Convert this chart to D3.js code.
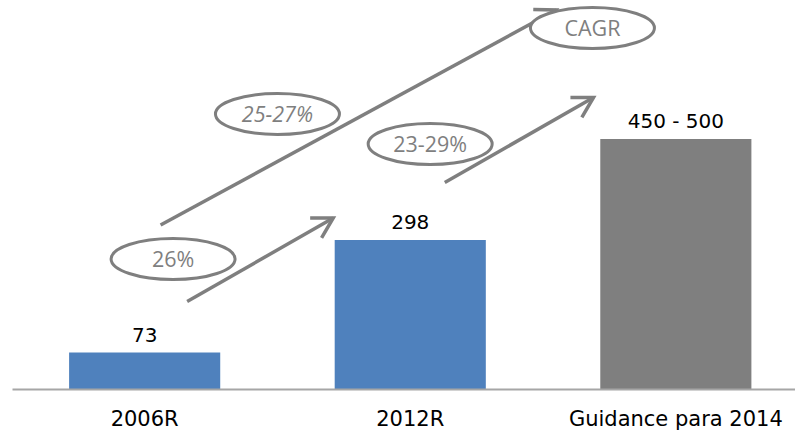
<!DOCTYPE html>
<html>
<head>
<meta charset="utf-8">
<script src="https://cdn.jsdelivr.net/npm/d3@7/dist/d3.min.js"></script>
<style>
  html, body { margin: 0; padding: 0; background: #fff; }
  svg { display: block; }
</style>
</head>
<body>
<div id="chart"></div>
<script>
// Chart data
const categories = ['2006R', '2012R', 'Guidance para 2014'];
const values = [73, 298, 500];
const valueLabels = ['73', '298', '450 - 500'];
const barColors = ['#4f81bd', '#4f81bd', '#7f7f7f'];

// CAGR annotations (arrow start/end in category index + value units)
const arrowFrom = [[0.16, 175], [1.13, 413], [0.06, 328]];
const arrowTo = [[0.71, 342], [1.69, 583], [1.55, 758]];
const bubbleText = ['26%', '23-29%', '25-27%', 'CAGR'];
const bubbleAt = [[0.107, 260], [1.075, 490], [0.5, 550], [1.686, 722]];
const bubbleItalic = [false, false, true, false];

const width = 795, height = 433;
const svg = d3.select('#chart').append('svg')
  .attr('width', width)
  .attr('height', height);

const x = d3.scaleBand()
  .domain(categories)
  .range([12, 808.5])
  .paddingInner(0.431)
  .paddingOuter(0.215);

const y = d3.scaleLinear().domain([0, 700]).range([389, 39]);

// continuous position across category centres, for the annotations
const xi = d3.scaleLinear()
  .domain([0, categories.length - 1])
  .range([x(categories[0]) + x.bandwidth() / 2,
          x(categories[categories.length - 1]) + x.bandwidth() / 2]);

// Bars
svg.append('g').selectAll('rect')
  .data(categories)
  .join('rect')
  .attr('x', d => x(d))
  .attr('width', x.bandwidth())
  .attr('y', (d, i) => y(values[i]))
  .attr('height', (d, i) => y(0) - y(values[i]))
  .attr('fill', (d, i) => barColors[i]);

// Value labels
svg.append('g').selectAll('text')
  .data(categories)
  .join('text')
  .attr('x', d => x(d) + x.bandwidth() / 2)
  .attr('y', (d, i) => y(values[i]) - 11)
  .attr('text-anchor', 'middle')
  .attr('font-family', 'DejaVu Sans, Verdana, sans-serif')
  .attr('font-size', '20px')
  .attr('fill', '#000')
  .text((d, i) => valueLabels[i]);

// Axis
const axis = svg.append('g')
  .attr('transform', `translate(0,${y(0)})`)
  .call(d3.axisBottom(x).tickSize(0).tickSizeOuter(0).tickPadding(22));
axis.select('.domain').attr('stroke', '#a6a6a6').attr('stroke-width', 2);
axis.selectAll('.tick text')
  .attr('font-family', 'DejaVu Sans, Verdana, sans-serif')
  .attr('font-size', '21px')
  .attr('fill', '#000');

// Arrow heads
svg.append('defs').append('marker')
  .attr('id', 'head')
  .attr('markerUnits', 'userSpaceOnUse')
  .attr('viewBox', '-24 -14 28 28')
  .attr('markerWidth', 28)
  .attr('markerHeight', 28)
  .attr('refX', 0)
  .attr('refY', 0)
  .attr('orient', 'auto')
  .append('path')
  .attr('d', 'M-20,-11.5L0,0L-20,11.5')
  .attr('fill', 'none')
  .attr('stroke', '#7f7f7f')
  .attr('stroke-width', 3.5);

svg.append('g').selectAll('line')
  .data(arrowFrom)
  .join('line')
  .attr('x1', d => xi(d[0]))
  .attr('y1', d => y(d[1]))
  .attr('x2', (d, i) => xi(arrowTo[i][0]))
  .attr('y2', (d, i) => y(arrowTo[i][1]))
  .attr('stroke', '#7f7f7f')
  .attr('stroke-width', 3.5)
  .attr('marker-end', 'url(#head)');

// Rate bubbles
const bubbles = svg.append('g').selectAll('g')
  .data(bubbleText)
  .join('g')
  .attr('transform', (d, i) => `translate(${xi(bubbleAt[i][0])},${y(bubbleAt[i][1])})`);

bubbles.append('ellipse')
  .attr('rx', 62)
  .attr('ry', 20.5)
  .attr('fill', '#fff')
  .attr('stroke', '#7f7f7f')
  .attr('stroke-width', 3);

bubbles.append('text')
  .attr('text-anchor', 'middle')
  .attr('y', 8)
  .attr('font-family', 'Open Sans, sans-serif')
  .attr('font-size', '21.5px')
  .attr('font-style', (d, i) => bubbleItalic[i] ? 'italic' : 'normal')
  .attr('fill', '#7f7f7f')
  .text(d => d);
</script>
</body>
</html>
